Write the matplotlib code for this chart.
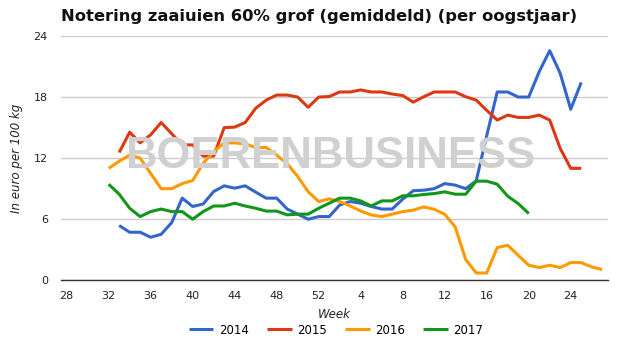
import matplotlib
matplotlib.use("Agg")
import matplotlib.pyplot as plt
import numpy as np

# ---- data ----
weeks = [28 + i if 28 + i <= 52 else 28 + i - 52 for i in range(52)]
tick_weeks = [28, 32, 36, 40, 44, 48, 52, 4, 8, 12, 16, 20, 24]

start_2014 = 5
v2014 = [5.38, 4.72, 4.72, 4.23, 4.52, 5.67, 8.07, 7.25, 7.5, 8.72, 9.28, 9.05,
         9.28, 8.66, 8.07, 8.07, 7.0, 6.5, 6.0, 6.26, 6.26, 7.4, 7.74, 7.57, 7.25,
         7.0, 7.0, 7.97, 8.8, 8.85, 9.0, 9.5, 9.35, 9.0, 9.77, 14.2, 18.5, 18.5,
         18.0, 18.0, 20.5, 22.56, 20.33, 16.8, 19.44]

start_2015 = 5
v2015 = [12.55, 14.55, 13.5, 14.3, 15.5, 14.4, 13.3, 13.3, 12.2, 12.2, 15.0, 15.05,
         15.5, 16.9, 17.7, 18.2, 18.2, 18.0, 17.0, 18.0, 18.05, 18.5, 18.5, 18.7,
         18.5, 18.5, 18.3, 18.15, 17.5, 18.03, 18.5, 18.5, 18.5, 18.03, 17.7, 16.7,
         15.74, 16.23, 16.0, 16.0, 16.23, 15.74, 12.95, 11.0, 11.0]

start_2016 = 4
v2016 = [11.0, 11.7, 12.3, 12.0, 10.5, 9.0, 9.0, 9.5, 9.8, 11.5, 12.65, 13.5, 13.5,
         13.4, 13.05, 13.05, 12.3, 11.45, 10.2, 8.7, 7.74, 8.0, 7.74, 7.3, 6.8, 6.43,
         6.26, 6.5, 6.75, 6.89, 7.21, 6.98, 6.49, 5.25, 2.03, 0.72, 0.72, 3.21, 3.44,
         2.46, 1.48, 1.25, 1.48, 1.25, 1.74, 1.74, 1.31, 1.05]

start_2017 = 4
v2017 = [9.44, 8.46, 7.08, 6.26, 6.75, 7.0, 6.75, 6.75, 6.0, 6.75, 7.3, 7.3, 7.57,
         7.3, 7.08, 6.8, 6.8, 6.43, 6.5, 6.5, 7.08, 7.57, 8.07, 8.07, 7.8, 7.3, 7.8,
         7.8, 8.3, 8.3, 8.43, 8.52, 8.69, 8.46, 8.46, 9.74, 9.74, 9.44, 8.26, 7.54, 6.56]

series = [("2014", start_2014, v2014, "#3366CC"),
          ("2015", start_2015, v2015, "#DC3912"),
          ("2016", start_2016, v2016, "#FF9900"),
          ("2017", start_2017, v2017, "#109618")]

# ---- figure ----
fig = plt.figure(figsize=(6.24, 3.45), dpi=100)
ax = fig.add_axes([61/624, 1 - 280.3/345, (608 - 61)/624, (280.3 - 36)/345])

for name, s, vals, col in series:
    x = np.arange(s, s + len(vals))
    ax.plot(x, vals, color=col, lw=2.2, label=name, zorder=3,
            solid_joinstyle="round", solid_capstyle="butt")

ax.set_xlim(-0.54, 51.55)
ax.set_ylim(0, 24)
ax.set_yticks([0, 6, 12, 18, 24])
ax.yaxis.grid(True, color="#cccccc", lw=1)
ax.set_axisbelow(True)
tick_pos = [weeks.index(w) if w >= 28 else 24 + w for w in tick_weeks]
ax.set_xticks(tick_pos)
ax.set_xticklabels([str(w) for w in tick_weeks])
ax.tick_params(length=0, labelsize=8, labelcolor="#222222")
ax.tick_params(axis="x", pad=8)
ax.tick_params(axis="y", pad=9.5)
for sp in ["left", "right", "top"]:
    ax.spines[sp].set_visible(False)
ax.spines["bottom"].set_color("#333333")
ax.spines["bottom"].set_linewidth(1)
ax.spines["bottom"].set_zorder(4)

ax.set_xlabel("Week", fontsize=8.5, style="italic", labelpad=5, color="#222222")
fig.text(17/624, 1 - 158/345, "In euro per 100 kg", rotation=90, fontsize=8.5,
         style="italic", ha="center", va="center", color="#222222")

fig.text(330/624, 1 - 156/345, "BOERENBUSINESS", fontsize=31.5, fontweight="bold",
         family="Liberation Sans", color="#d0d0d0", ha="center", va="center", zorder=0)

fig.text(319/624, 1 - 17/345, "Notering zaaiuien 60% grof (gemiddeld) (per oogstjaar)",
         fontsize=11.8, fontweight="bold", ha="center", va="center", color="#111111")

fig.legend(loc="center", bbox_to_anchor=(336/624, 1 - 330/345), ncol=4, frameon=False,
           fontsize=8.5, handlelength=2.1, handletextpad=0.45, columnspacing=1.55)

fig.savefig("out.png", dpi=100)
